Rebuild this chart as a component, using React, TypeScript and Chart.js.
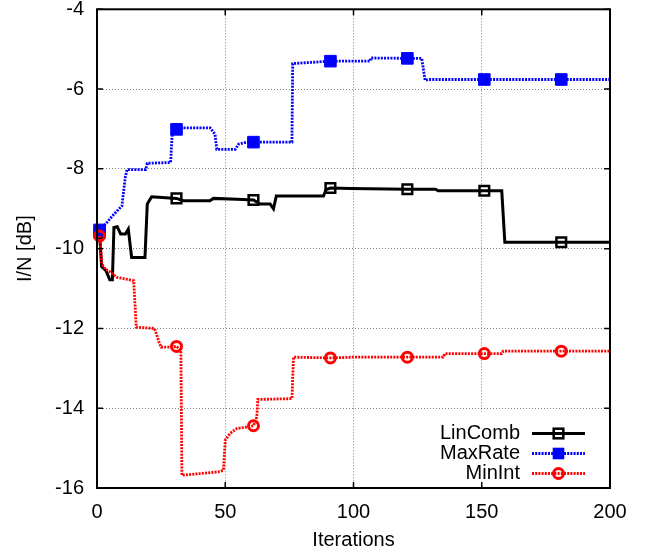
import React, { useEffect, useRef } from 'react';
import { Chart, registerables } from 'chart.js';

Chart.register(...registerables);

// ---- data ----
const xTickValues = [0, 50, 100, 150, 200];
const yTickValues = [-16, -14, -12, -10, -8, -6, -4];
const markerIters = [1, 31, 61, 91, 121, 151, 181];

const linCombIters = [1, 1.8, 3.5, 5, 6, 6.6, 7.9, 9.2, 11.1, 12.2, 13.5, 18.7, 19.6, 21.3, 25.4, 31, 33.7, 44, 45.4, 54.5, 61, 63.6, 67.5, 68.8, 69.9, 88.3, 89.3, 91, 98.7, 121, 132, 133, 151, 157.8, 159, 181, 200];
const linCombValues = [-9.6, -10.45, -10.55, -10.78, -10.78, -9.47, -9.45, -9.63, -9.63, -9.51, -10.22, -10.22, -8.88, -8.7, -8.72, -8.74, -8.8, -8.8, -8.74, -8.76, -8.78, -8.88, -8.88, -9.0, -8.68, -8.68, -8.52, -8.48, -8.49, -8.51, -8.51, -8.55, -8.55, -8.55, -9.84, -9.84, -9.84];
const linCombMarkers = [-9.6, -8.74, -8.78, -8.48, -8.51, -8.55, -9.84];

const maxRateIters = [1, 3.4, 6, 9.7, 10.4, 11, 11.7, 19, 19.6, 28.7, 29.3, 31.2, 33.7, 44.1, 46, 46.7, 53.9, 55.2, 58.4, 61, 76, 76.3, 91, 106.5, 106.7, 121, 126.6, 127.9, 129.2, 151, 181, 200];
const maxRateValues = [-9.53, -9.38, -9.18, -8.93, -8.55, -8.22, -8.02, -8.02, -7.86, -7.84, -7.13, -7.01, -6.97, -6.97, -7.13, -7.51, -7.51, -7.38, -7.33, -7.33, -7.33, -5.36, -5.3, -5.3, -5.22, -5.23, -5.23, -5.78, -5.76, -5.76, -5.76, -5.76];
const maxRateMarkers = [-9.53, -7.01, -7.33, -5.3, -5.23, -5.76, -5.76];

const minIntIters = [1, 1.9, 3.2, 5.2, 7.8, 14.3, 15.3, 22.4, 24.4, 25, 28.6, 31, 32.7, 33.1, 40, 48, 49.3, 50, 51.9, 54.5, 58.4, 61, 62.3, 62.7, 76, 76.6, 91, 100, 121, 135, 135.7, 151, 157.8, 158.4, 181, 200];
const minIntValues = [-9.68, -10.38, -10.51, -10.59, -10.72, -10.8, -11.97, -12.0, -12.38, -12.47, -12.47, -12.45, -12.55, -15.68, -15.64, -15.59, -15.55, -14.8, -14.63, -14.51, -14.47, -14.44, -14.22, -13.78, -13.76, -12.72, -12.74, -12.72, -12.72, -12.72, -12.63, -12.63, -12.63, -12.57, -12.57, -12.57];
const minIntMarkers = [-9.68, -12.45, -14.44, -12.74, -12.72, -12.63, -12.57];

const seriesNames = ['LinComb', 'MaxRate', 'MinInt'];
const xTitle = 'Iterations';
const yTitle = 'I/N [dB]';

// ---- styles ----
const FONT_FAMILY = "'Liberation Sans', Arial, Helvetica, sans-serif";
const FONT_SIZE = 20;
const FONT = { family: FONT_FAMILY, size: FONT_SIZE };
const DOT = [2, 1.2];
const DOT_WIDTH = 2.8;

const pts = (xs: number[], ys: number[]) => xs.map((x, i) => ({ x, y: ys[i] }));

const legendPlugin = {
  id: 'gnuplotFrame',
  afterDatasetsDraw(chart: any) {
    const ctx = chart.ctx;
    const { left, right, top, bottom } = chart.chartArea;
    const xs = chart.scales.x;
    const ys = chart.scales.y;
    ctx.save();
    // legend (opaque)
    ctx.fillStyle = '#fff';
    ctx.fillRect(428, 412, right - 428, bottom - 412);
    ctx.font = `${FONT_SIZE}px ${FONT_FAMILY}`;
    ctx.textAlign = 'right';
    ctx.textBaseline = 'middle';
    const rows = [433.5, 453.5, 473.5];
    const x0 = 532, x1 = 585, xm = 558.5;
    seriesNames.forEach((name, i) => {
      const y = rows[i];
      ctx.fillStyle = '#000';
      ctx.fillText(name, 520, y);
      ctx.beginPath();
      if (i === 0) {
        ctx.setLineDash([]);
        ctx.strokeStyle = '#000';
        ctx.lineWidth = 3;
      } else {
        ctx.setLineDash(DOT);
        ctx.strokeStyle = i === 1 ? '#0000ff' : '#ff0000';
        ctx.lineWidth = DOT_WIDTH;
      }
      ctx.moveTo(x0, y);
      ctx.lineTo(x1, y);
      ctx.stroke();
      ctx.setLineDash([]);
      if (i === 0) {
        ctx.lineWidth = 2.5;
        ctx.strokeRect(xm - 4.8, y - 4.8, 9.6, 9.6);
      } else if (i === 1) {
        ctx.fillStyle = '#0000ff';
        ctx.fillRect(xm - 5.8, y - 5.8, 11.6, 11.6);
      } else {
        ctx.lineWidth = 3;
        ctx.strokeStyle = '#ff0000';
        ctx.beginPath();
        ctx.arc(xm, y, 5, 0, Math.PI * 2);
        ctx.stroke();
      }
    });
    // frame
    ctx.setLineDash([]);
    ctx.strokeStyle = '#000';
    ctx.lineWidth = 2;
    ctx.strokeRect(left, top, right - left, bottom - top);
    ctx.lineWidth = 1.5;
    ctx.beginPath();
    xTickValues.forEach((v) => {
      const p = xs.getPixelForValue(v);
      ctx.moveTo(p, bottom);
      ctx.lineTo(p, bottom - 6);
      ctx.moveTo(p, top);
      ctx.lineTo(p, top + 6);
    });
    yTickValues.forEach((v) => {
      const p = ys.getPixelForValue(v);
      ctx.moveTo(left, p);
      ctx.lineTo(left + 6, p);
      ctx.moveTo(right, p);
      ctx.lineTo(right - 6, p);
    });
    ctx.stroke();
    ctx.restore();
  },
};

export default function App() {
  const ref = useRef<HTMLCanvasElement>(null);
  useEffect(() => {
    if (!ref.current) return;
    const gridCommon = {
      color: 'rgba(0,0,0,0.5)',
      lineWidth: 1,
      drawTicks: false,
      borderDash: [1, 2],
    };
    const chart = new Chart(ref.current, {
      type: 'scatter',
      data: {
        datasets: [
          {
            label: 'MinInt markers',
            data: pts(markerIters, minIntMarkers),
            showLine: false,
            pointStyle: 'circle',
            pointRadius: 5,
            pointBorderWidth: 3,
            pointBorderColor: '#ff0000',
            pointBackgroundColor: 'rgba(0,0,0,0)',
            clip: false,
            order: 0,
          },
          {
            label: seriesNames[2],
            data: pts(minIntIters, minIntValues),
            showLine: true,
            borderColor: '#ff0000',
            borderWidth: DOT_WIDTH,
            borderDash: DOT,
            pointRadius: 0,
            tension: 0,
            order: 1,
          },
          {
            label: 'MaxRate markers',
            data: pts(markerIters, maxRateMarkers),
            showLine: false,
            pointStyle: 'rect',
            pointRadius: 8.2,
            pointBorderWidth: 1,
            pointBorderColor: '#0000ff',
            pointBackgroundColor: '#0000ff',
            clip: false,
            order: 2,
          },
          {
            label: seriesNames[1],
            data: pts(maxRateIters, maxRateValues),
            showLine: true,
            borderColor: '#0000ff',
            borderWidth: DOT_WIDTH,
            borderDash: DOT,
            pointRadius: 0,
            tension: 0,
            order: 3,
          },
          {
            label: 'LinComb markers',
            data: pts(markerIters, linCombMarkers),
            showLine: false,
            pointStyle: 'rect',
            pointRadius: 6.8,
            pointBorderWidth: 2.5,
            pointBorderColor: '#000',
            pointBackgroundColor: 'rgba(0,0,0,0)',
            clip: false,
            order: 4,
          },
          {
            label: seriesNames[0],
            data: pts(linCombIters, linCombValues),
            showLine: true,
            borderColor: '#000',
            borderWidth: 3,
            pointRadius: 0,
            tension: 0,
            order: 5,
          },
        ],
      },
      options: {
        animation: false,
        responsive: true,
        maintainAspectRatio: false,
        layout: { padding: { top: 8, right: 47, left: 0, bottom: 0 } },
        plugins: { legend: { display: false }, tooltip: { enabled: false } },
        scales: {
          x: {
            type: 'linear',
            min: 0,
            max: 200,
            ticks: { stepSize: 50, font: FONT, color: '#000', padding: 12, maxRotation: 0, autoSkip: false },
            grid: gridCommon,
            border: { display: false, dash: [1, 2] },
            title: { display: true, text: xTitle, font: FONT, color: '#000', padding: { top: 0, bottom: 1 } },
            afterFit: (s: any) => {
              s.height = 65;
              s.paddingLeft = 0;
              s.paddingRight = 0;
            },
          },
          y: {
            type: 'linear',
            min: -16,
            max: -4,
            ticks: { stepSize: 2, font: FONT, color: '#000', padding: 13, autoSkip: false },
            grid: gridCommon,
            border: { display: false, dash: [1, 2] },
            title: { display: true, text: yTitle, font: FONT, color: '#000', padding: { top: 13, bottom: 0 } },
            afterFit: (s: any) => {
              s.width = 97;
              s.paddingTop = 0;
              s.paddingBottom = 0;
            },
          },
        },
      } as any,
      plugins: [legendPlugin],
    });
    return () => chart.destroy();
  }, []);
  return (
    <div style={{ position: 'absolute', left: 0, top: 0, width: 657, height: 553, background: '#fff' }}>
      <canvas ref={ref} />
    </div>
  );
}
